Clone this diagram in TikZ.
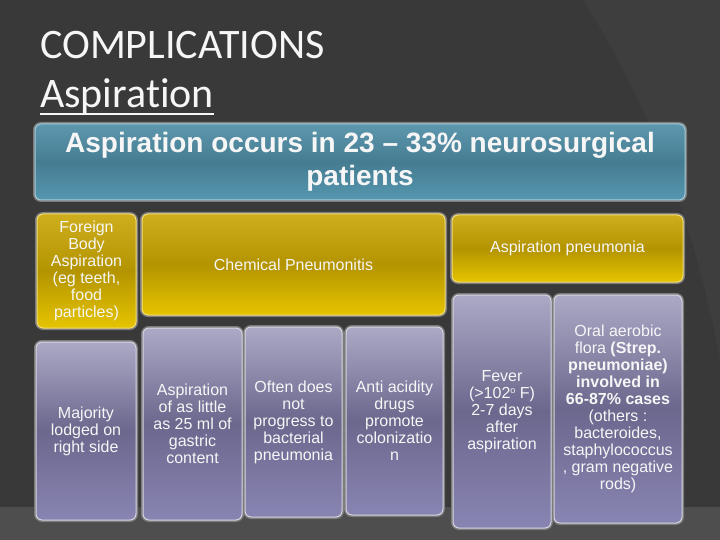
\documentclass[tikz,border=0pt]{standalone}
\usepackage{fontspec}
\setmainfont{Liberation Sans}
\newfontfamily\titlefont[Ligatures={NoCommon}]{Carlito}
\usetikzlibrary{calc}
\definecolor{bgbase}{HTML}{393939}
\definecolor{bglightA}{HTML}{3E3E3E}
\definecolor{bglightB}{HTML}{4E4E4E}
\definecolor{glow}{HTML}{7C7C7C}
\definecolor{tealT}{HTML}{5E98AE}
\definecolor{tealM}{HTML}{457C92}
\definecolor{tealB}{HTML}{5597AF}
\definecolor{tealE}{HTML}{A4CCDA}
\definecolor{yelT}{HTML}{CFAE1E}
\definecolor{yelM}{HTML}{B39400}
\definecolor{yelB}{HTML}{E6C400}
\definecolor{yelE}{HTML}{F3DE78}
\definecolor{purT}{HTML}{ACA9C6}
\definecolor{purM}{HTML}{6B678D}
\definecolor{purB}{HTML}{8985B3}
\definecolor{purE}{HTML}{D6D6E2}
\definecolor{txt}{HTML}{F6F6F6}
\newcommand{\degsup}{\raisebox{5pt}{\fontsize{9}{9}\selectfont o}}
\begin{document}
\begin{tikzpicture}[x=1pt,y=-1pt,
  boxbase/.style={rounded corners=6pt, inner sep=0pt, align=center, text=txt,
    line width=1pt, preaction={draw=glow, line width=4pt, rounded corners=6pt},
    font=\fontsize{16}{17}\selectfont},
  tealbox/.style={boxbase, draw=tealE, top color=tealT, bottom color=tealB, middle color=tealM,
    font=\fontsize{28}{33}\selectfont\bfseries},
  yelbox/.style={boxbase, draw=yelE, top color=yelT, bottom color=yelB, middle color=yelM},
  purbox/.style={boxbase, draw=purE, top color=purT, bottom color=purB, middle color=purM},
  ttl/.style={anchor=base west, inner sep=0pt, text=txt, font=\titlefont\fontsize{42}{42}\selectfont}
]
\useasboundingbox (0,0) rectangle (720,540);
% background
\fill[bgbase] (0,0) rectangle (720,540);
\fill[bglightA] (583,0) .. controls (660,120) and (700,250) .. (720,360) -- (720,0) -- cycle;
\fill[bglightB] (0,507) -- (720,507) -- (720,540) -- (0,540) -- cycle;

% titles
\node[ttl] (t1) at (40,59) {COMPLICATIONS};
\node[ttl] (t2) at (40,108) {Aspiration};
\draw[txt, line width=2pt] ($(t2.base west)+(0,6)$) -- ($(t2.base east)+(0,6)$);

% top box
\node[tealbox, minimum width=650pt, minimum height=76pt] (top) at (360,162)
  {Aspiration occurs in 23 -- 33\% neurosurgical\\patients};

% yellow row
\node[yelbox, minimum width=99pt, minimum height=114pt] (fb) at (86.5,271)
  {Foreign\\Body\\Aspiration\\(eg teeth,\\food\\particles)};
\node[yelbox, minimum width=303pt, minimum height=101pt] (chem) at (293.5,264.5)
  {Chemical Pneumonitis};
\node[yelbox, minimum width=231pt, minimum height=67pt] (apn) at (567.5,248.5)
  {Aspiration pneumonia};

% purple row
\node[purbox, minimum width=100pt, minimum height=178pt] (maj) at (86,431)
  {Majority\\lodged on\\right side};
\node[purbox, minimum width=99pt, minimum height=192pt] (little) at (192.5,424)
  {Aspiration\\of as little\\as 25 ml of\\gastric\\content};
\node[purbox, minimum width=97pt, minimum height=190pt] (often) at (293.5,422)
  {Often does\\not\\progress to\\bacterial\\pneumonia};
\node[purbox, minimum width=97pt, minimum height=188pt] (anti) at (394.5,421)
  {Anti acidity\\drugs\\promote\\colonizatio\\n};
\node[purbox, minimum width=98pt, minimum height=233pt] (fever) at (502,411.5)
  {Fever\\(>102\degsup{} F)\\2-7 days\\after\\aspiration};
\node[purbox, minimum width=128pt, minimum height=228pt] (oral) at (618,409)
  {Oral aerobic\\flora \textbf{(Strep.}\\\textbf{pneumoniae)}\\\textbf{involved in}\\\textbf{66-87\% cases}\\(others :\\bacteroides,\\staphylococcus\\, gram negative\\rods)};
\end{tikzpicture}
\end{document}
